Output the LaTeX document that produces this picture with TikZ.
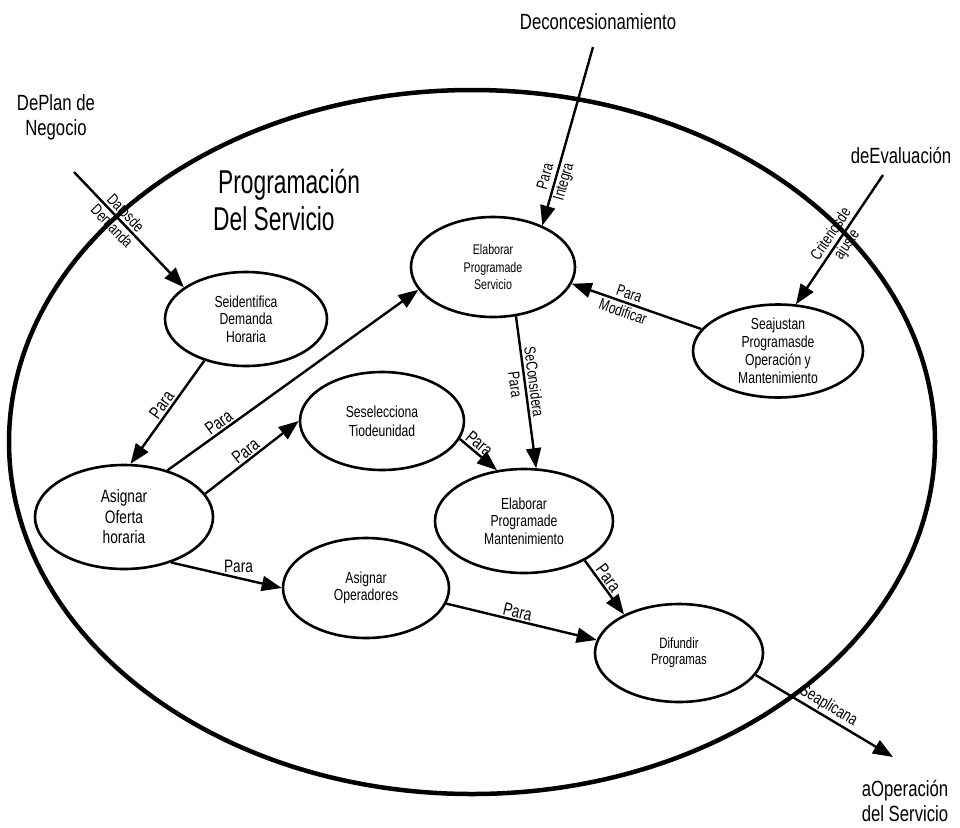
\documentclass[tikz,border=0pt]{standalone}
\usepackage{fontspec}
\setmainfont[FakeStretch=0.76]{Liberation Sans}
\newfontfamily\titlefont[FakeStretch=0.69]{Liberation Sans}
\usetikzlibrary{shapes.geometric,arrows.meta}
\tikzset{
  proc/.style={draw, ellipse, line width=2.6pt, inner sep=0pt, align=center},
  conn/.style={line width=2.4pt, -{Triangle[length=20pt,width=15pt]}},
  lbl/.style={align=center, inner sep=1.5pt, font=\fontsize{18}{18}\selectfont},
  lbltwo/.style={align=center, inner sep=0pt, font=\fontsize{16}{19}\selectfont},
  outtext/.style={align=center, inner sep=0pt, font=\fontsize{22}{25}\selectfont},
}
\begin{document}
\begin{tikzpicture}[x=1pt,y=-1pt]
\useasboundingbox (0,0) rectangle (960,827);
\fill[white] (0,0) rectangle (960,827);
% outer boundary
\draw[line width=4.5pt] (472,442) ellipse [x radius=463, y radius=352];
% title
\node[font=\titlefont\fontsize{33}{37}\selectfont, anchor=base west, inner sep=0pt] (t1) at (218,193) {Programación};
\node[font=\titlefont\fontsize{33}{37}\selectfont, anchor=base west, inner sep=0pt] (t2) at (213,230) {Del Servicio};
% processes
\node[proc, minimum width=162pt, minimum height=94pt, font=\fontsize{16}{17.5}\selectfont] (sid) at (246,319) {Seidentifica\\Demanda\\Horaria};
\node[proc, minimum width=164pt, minimum height=100pt, font=\fontsize{14}{17.5}\selectfont] (esv) at (493,267) {Elaborar\\Programade\\Servicio};
\node[proc, minimum width=170pt, minimum height=90pt, font=\fontsize{16}{18}\selectfont] (saj) at (778,351) {Seajustan\\Programasde\\Operación y\\Mantenimiento};
\node[proc, minimum width=164pt, minimum height=98pt, font=\fontsize{16}{19}\selectfont] (ssel) at (382,421) {Seselecciona\\Tiodeunidad};
\node[proc, minimum width=178pt, minimum height=104pt, font=\fontsize{18}{20.5}\selectfont] (aof) at (124,517) {Asignar\\Oferta\\horaria};
\node[proc, minimum width=166pt, minimum height=100pt, font=\fontsize{16}{17}\selectfont] (aop) at (366,588) {Asignar\\Operadores};
\node[proc, minimum width=178pt, minimum height=104pt, font=\fontsize{16}{17.5}\selectfont] (ema) at (524,521) {Elaborar\\Programade\\Mantenimiento};
\node[proc, minimum width=168pt, minimum height=98pt, font=\fontsize{15}{16}\selectfont] (dif) at (679,653) {Difundir\\Programas};
% outside texts
\node[outtext] (plan) at (56,117) {DePlan de\\Negocio};
\node[outtext, anchor=base] (deco) at (598,29) {Deconcesionamiento};
\node[outtext, anchor=base] (eval) at (901,163) {deEvaluación};
\node[outtext] (oper) at (905,801) {aOperación\\del Servicio};
% free ends
\coordinate (inPlan) at (74,172);
\coordinate (inDeco) at (593,47);
\coordinate (inEval) at (883,175);
\coordinate (outOp) at (893,757);
% connectors
\draw[conn] (inPlan) -- node[lbltwo, sloped, pos=0.41] {Datosde\\Demanda} (sid.153);
\draw[conn] (inDeco) -- node[lbltwo, sloped, pos=0.74] {Para\\Integra} (esv.40);
\draw[conn] (inEval) -- node[lbltwo, sloped, pos=0.5] {Criteriosde\\ajuste} (saj.69);
\draw[conn] (saj.164) -- node[lbltwo, sloped, pos=0.58] {Para\\Modificar} (esv.-12);
\draw[conn] (esv.-65) -- node[lbltwo, sloped, pos=0.44] {SeConsidera\\Para} (ema.77);
\draw[conn] (sid.-135) -- node[lbl, sloped, above, pos=0.48] {Para} (aof.83);
\draw[conn] (aof.47) -- node[lbl, sloped, above, pos=0.225] {Para} (esv.197);
\draw[conn] (aof.16) -- node[lbl, sloped, above, pos=0.49] {Para} (ssel.180);
\draw[conn] (ssel.-13) -- node[lbl, sloped, above, pos=0.37] {Para} (ema.118);
\draw[conn] (aof.-44) -- node[lbl, above=3pt, pos=0.61] {Para} (aop.180);
\draw[conn] (aop.-11) -- node[lbl, sloped, above, pos=0.46] {Para} (dif.171);
\draw[conn] (ema.-33) -- node[lbl, sloped, above, pos=0.42] {Para} (dif.145);
\draw[conn] (dif.-16) -- node[lbl, sloped, above, pos=0.49, font=\fontsize{17}{17}\selectfont] {Seaplicana} (outOp);
\end{tikzpicture}
\end{document}
